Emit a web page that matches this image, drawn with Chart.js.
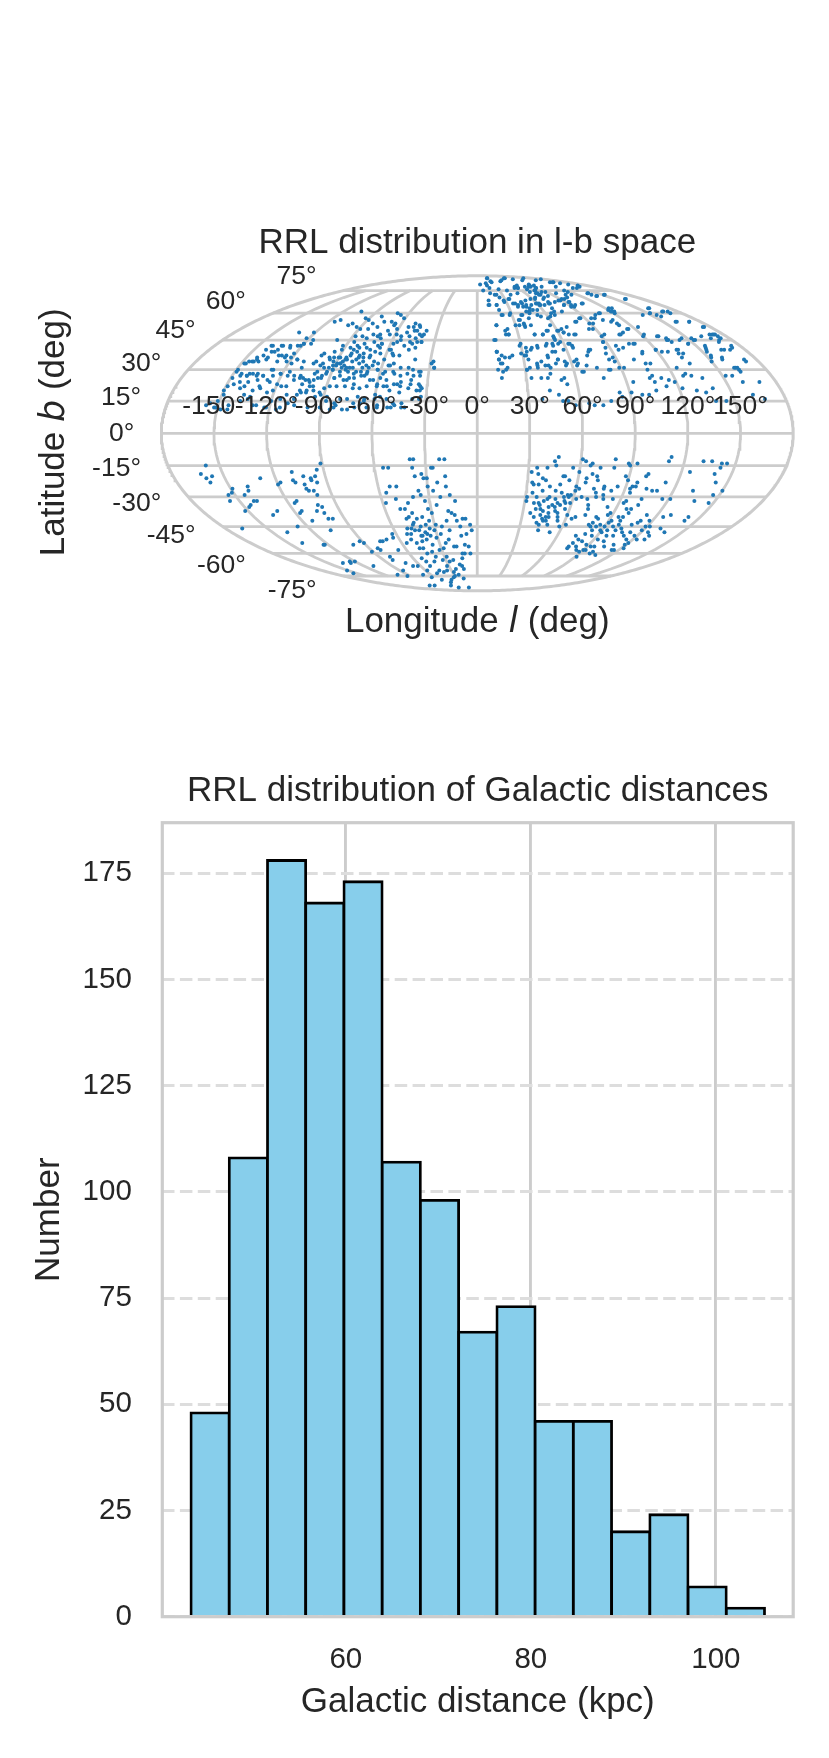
<!DOCTYPE html>
<html>
<head>
<meta charset="utf-8">
<script src="https://cdn.jsdelivr.net/npm/chart.js@4.4.1/dist/chart.umd.min.js"></script>
<style>
  html, body { margin: 0; padding: 0; background: #ffffff; }
  #wrap { position: relative; width: 829px; height: 1758px; background: #ffffff; }
  canvas { position: absolute; left: 0; }
</style>
</head>
<body>
<div id="wrap">
  <canvas id="sky" width="829" height="680" style="top:0;width:829px;height:680px"></canvas>
  <canvas id="hist" width="829" height="1078" style="top:680px;width:829px;height:1078px"></canvas>
</div>
<script>
// ---------------- DATA ----------------
// Sky positions of the RR Lyrae stars, [Galactic longitude l (deg), latitude b (deg)]
const northWest = [
[-104,61],[-70,60],[-66,59],[-112,56],[-115,55],[-99,54],[-93,57],[-89,56],[-83,54],[-81,58],[-75,55],[-69,55],[-65,54],[-61,57],[-49,54],[-45,53],[-93,52],[-89,51],[-83,51],[-77,52],[-71,48],[-67,50],[-64,48],[-65,53],[-61,51],[-53,52],[-49,52],[-45,50],[-42,48],[-39,48],[-132,49],[-121,49],[-101,53],[-99,45],[-88,47],[-83,47],[-79,46],[-76,48],[-72,47],[-66,43],[-59,48],[-55,47],[-49,47],[-44,46],[-39,44],[-45,43],[-122,46],[-115,43],[-120,43],[-123,42],[-128,42],[-133,42],[-140,42],[-142,40],[-135,39],[-130,37],[-125,37],[-121,38],[-101,38],[-95,39],[-91,40],[-86,41],[-83,38],[-80,39],[-80,41],[-78,43],[-72,40],[-68,39],[-66,41],[-59,40],[-51,37],[-46,40],[-40,35],[-74,36],[-78,35],[-84,35],[-89,36],[-92,34],[-89,33],[-146,34],[-144,34],[-142,35],[-140,34],[-136,36],[-128,34],[-122,34],[-116,35],[-103,34],[-98,33],[-93,31],[-91,32],[-86,34],[-84,32],[-80,31],[-78,31],[-75,33],[-72,31],[-70,32],[-66,32],[-63,33],[-56,32],[-53,33],[-48,31],[-43,31],[-40,30],[-36,29],[-28,34],[-27,31],[-149,30],[-147,33],[-149,26],[-145,28],[-141,27],[-138,28],[-133,25],[-131,27],[-128,30],[-125,27],[-121,28],[-116,29],[-112,27],[-108,26],[-106,26],[-102,25],[-99,25],[-99,29],[-95,26],[-93,29],[-87,26],[-85,29],[-81,25],[-78,26],[-75,26],[-71,27],[-68,29],[-63,25],[-59,26],[-57,29],[-51,28],[-48,23],[-46,24],[-40,25],[-35,27],
[-143,24],[-138,24],[-130,22],[-120,23],[-114,22],[-105,23],[-100,22],[-91,21],[-88,22],[-84,22],[-79,22],[-74,21],[-70,21],[-66,22],[-60,22],[-56,22],[-52,20],[-41,21],[-36,20],[-34,22],[-150,20],[-151,15],[-152,12],[-157,13],[-144,11],[-141,21],[-137,18],[-133,17],[-128,13],[-123,12],[-120,15],[-116,11],[-115,16],[-110,14],[-106,18],[-101,19],[-97,20],[-92,18],[-88,15],[-85,11],[-82,13],[-78,11],[-75,11],[-72,14],[-68,14],[-66,16],[-58,13],[-53,16],[-49,14],[-46,19],[-42,12],[-38,16],[-34,16],[-33,21],
[-90,30],[-87,33],[-85,36],[-82,30],[-80,34],[-77,37],[-75,29],[-73,34],[-70,36],[-68,31],[-66,34],[-64,38],[-62,30],[-60,35],[-58,43],[-56,38],[-54,45],[-52,49],[-50,42],[-47,50],[-44,52],[-42,44],[-40,47],[-38,50],[-72,44],[-69,46],[-86,44],[-92,42],[-96,36],[-110,31],[-118,33],[-125,24],[-135,28],[-100,28],[-105,20],[-95,17],[-60,18],[-55,25],
[-141,42],[-134,42],[-127,41],[-121,42],[-120,43],[-116,45],[-102,37],[-95,35],[-93,36],[-90,36],[-87,33],[-85,35],[-82,31],[-83,37],[-83,40],[-82,42],[-77,36],[-75,38],[-75,41],[-70,37],[-68,42],[-66,43],[-58,40],[-55,37],[-56,44],[-47,44],[-42,41],[-39,44],[-29,33],[-27,31],
[-148,33],[-143,34],[-143,36],[-140,37],[-136,35],[-137,39],[-134,40],[-128,37],[-125,36],[-121,36],[-116,35],[-111,34],[-104,33],[-99,32],[-96,31],[-90,30],[-89,32],[-85,31],[-80,29],[-76,28],[-72,29],[-68,28],[-62,30],[-58,28],[-55,32],[-52,29],[-47,27],[-43,28],[-39,27],[-35,29],
[-149,29],[-145,27],[-141,27],[-140,28],[-135,27],[-131,27],[-127,25],[-127,30],[-121,28],[-116,27],[-111,25],[-108,27],[-104,25],[-101,24],[-97,26],[-95,27],[-93,28],[-87,26],[-84,27],[-79,25],[-74,23],[-69,27],[-65,25],[-60,23],[-54,22],[-50,23],[-46,22],[-40,23],[-35,23],
[-149,22],[-146,23],[-139,22],[-133,20],[-129,21],[-124,19],[-121,20],[-117,22],[-112,18],[-107,16],[-104,19],[-101,20],[-98,22],[-93,19],[-88,17],[-83,14],[-80,16],[-76,16],[-70,17],[-66,15],[-60,16],[-57,17],[-52,12],[-48,13],[-44,14],[-34,20],[-33,17],[-155,14],[-151,12],[-148,11],[-149,18],[-144,13],[-138,15],[-134,16],[-130,13],[-122,12],[-114,12],[-106,13],[-98,12],[-91,12],[-83,12],[-71,12],[-64,12],[-58,12],[-50,12],[-44,12],
[13,39],[13,30]
];
const northEast = [
[32,86],[29,83],[16,79],[51,83],[85,86],[98,85],[110,84],[147,86],[143,84],[175,85],[147,82],[154,82],[155,81],[159,80],[141,77],[159,78],[61,78],[55,77],[74,78],[86,79],[77,75],[86,77],[75,73],[76,72],[88,74],[65,70],[58,69],[51,68],[45,66],[38,66],[34,69],[28,68],[21,72],[16,73],[11,65],[19,65],[39,64],[47,64],[53,65],[60,66],[62,65],[72,66],[80,67],[88,68],[85,65],[94,67],[90,64],[96,65],[105,66],[98,73],[95,69],[106,72],[137,73],[138,71],[153,72],[161,69],
[21,59],[29,60],[38,59],[47,61],[43,57],[37,54],[34,56],[37,52],[42,53],[30,53],[23,51],[15,53],[21,48],[23,48],[13,45],[42,48],[48,48],[52,50],[55,47],[61,50],[64,49],[69,52],[71,48],[62,58],[67,59],[76,61],[70,63],[79,55],[86,57],[95,57],[102,59],[108,60],[92,54],[85,51],[93,48],[120,62],[126,63],[123,61],[108,55],[111,53],[121,60],[114,51],[124,52],[160,63],[152,60],[155,59],[166,61],[171,61],[161,55],[171,55],[174,52],[170,48],[174,48],[174,47],[171,45],[153,46],[146,46],[135,45],[131,47],[122,48],[109,43],
[30,43],[33,41],[36,40],[41,42],[47,42],[52,43],[55,45],[58,44],[63,43],[65,42],[58,40],[52,39],[46,36],[41,34],[38,33],[33,35],[32,37],[29,38],[23,37],[18,36],[14,35],[13,39],[15,33],[16,29],[19,31],[15,26],[31,30],[33,31],[38,31],[43,32],[46,31],[52,35],[57,33],[62,34],[64,33],[66,29],[74,39],[76,40],[88,44],[85,38],[85,35],[88,34],[95,40],[99,41],[105,43],[101,35],[110,39],[107,33],[106,30],[107,27],[120,40],[123,39],[135,46],[136,44],[135,40],[136,38],[146,43],[154,45],[155,41],[153,39],[150,34],[164,40],[158,35],[170,40],[173,41],[163,31],[172,35],[162,31],[163,29],[125,31],[128,28],[131,27],[137,26],
[33,26],[39,26],[43,26],[45,28],[51,25],[53,26],[54,23],[65,29],[77,26],[83,30],[92,31],[94,24],[105,26],[107,24],[112,26],[116,25],[119,24],[126,27],[106,20],[113,22],[122,21],[130,20],[135,19],[140,21],[152,27],[156,27],[160,24],[170,24],[162,18],[168,16],[145,15],[139,15],[84,19],[85,17],[91,19],[97,18],[101,18],[73,13],[78,15],[68,13],[65,14],[57,13],[53,15],[50,15],[48,18],[38,16],[43,20],
[70,76],[80,78],[68,74],[82,71],[60,77],[72,69],[90,80],[100,78],[40,75],[50,73],[62,66],[55,62],[25,70],[30,76],[8,75],[5,80],[12,68],[20,62],
[31,86],[29,82],[16,81],[18,77],[12,65],[19,65],[23,72],[59,84],[88,86],[28,67],[35,69],[40,72],[58,78],[65,79],[60,77],[36,66],[40,65],[45,67],[44,64],[48,65],[49,63],[83,78],[93,79],[78,75],[73,73],[87,77],[74,72],[83,74],[75,70],[63,69],[59,66],[61,65],[66,65],[73,67],[73,66],[152,82],[122,78],[86,68],[92,69],[85,65],[101,70],[95,67],[92,65],[93,64],[165,79],[147,77],[117,75],[117,74],[113,72],[106,66],[138,73],[137,72],[139,71],[152,72],[162,69],[123,63],[121,61],[115,51],
[22,59],[28,59],[35,56],[39,59],[44,61],[46,60],[51,62],[52,59],[54,58],[59,57],[65,60],[69,61],[57,53],[64,51],[64,49],[67,48],[80,55],[85,57],[89,54],[98,57],[107,60],[103,56],[120,61],[111,56],[111,54],[143,59],[161,63],[152,60],[156,58],[167,61],[170,60],[160,55],[171,55],[175,52],[172,48],[173,48],[174,46],[15,53],[21,50],[23,48],[33,53],[37,53],[42,48],[48,48],[53,50],[60,50],[72,48],[88,51],[90,47],[105,48],[108,49],[120,47],[130,47],[134,45],[143,45],[146,43],[153,45],[162,47],[167,46],[169,44],
[12,45],[13,39],[16,37],[21,36],[14,35],[16,33],[29,42],[31,37],[33,39],[37,41],[41,41],[48,43],[52,42],[55,46],[56,43],[64,43],[65,41],[46,37],[50,39],[52,35],[56,34],[64,35],[72,37],[75,40],[88,44],[87,41],[95,42],[104,48],[108,43],[109,38],[110,33],[120,40],[127,39],[134,40],[133,38],[133,36],[135,33],[156,42],[154,40],[153,37],[152,36],[166,40],[159,36],[174,42],[161,31],[163,30],[172,34],[88,36],[89,31],[82,30],[75,31],[69,32],[63,32],[56,32],[50,33],[45,32],[38,32],[31,30],[18,30]
];
const southWest = [
[-158,-15],[-163,-19],[-161,-21],[-157,-20],[-160,-23],[-154,-29],[-149,-26],[-151,-28],[-156,-32],[-168,-46],[-152,-37],[-139,-25],[-144,-29],[-140,-27],[-145,-34],[-141,-32],[-139,-32],[-129,-21],[-147,-35],[-136,-39],[-131,-37],[-120,-24],[-118,-23],[-139,-48],[-109,-18],[-110,-22],[-109,-23],[-116,-33],[-114,-32],[-127,-45],[-117,-38],[-115,-37],[-139,-54],[-103,-20],[-104,-24],[-104,-26],[-103,-27],[-99,-21],[-99,-22],[-113,-42],[-100,-27],[-96,-20],[-94,-17],[-96,-23],[-99,-29],[-91,-14],[-102,-34],[-105,-37],[-100,-35],[-101,-38],[-124,-55],[-123,-55],[-101,-41],[-106,-47],[-98,-41],
[-135,-66],[-151,-71],[-125,-65],[-127,-66],[-154,-73],[-120,-65],[-100,-55],[-92,-53],[-90,-54],[-91,-59],[-110,-68],[-83,-57],[-76,-53],[-82,-58],[-74,-53],[-70,-52],[-80,-62],[-63,-49],[-64,-51],[-81,-64],[-67,-58],[-103,-74],[-86,-71],[-72,-66],[-94,-75],[-68,-68],[-63,-68],[-52,-63],[-70,-74],[-58,-71],[-105,-83],[-64,-76],[-94,-83],[-50,-73],[-55,-78],[-35,-71],[-58,-83],[-33,-76],[-51,-85],[-16,-68],[-20,-77],[-23,-85],
[-55,-16],[-52,-16],[-53,-25],[-49,-25],[-56,-28],[-58,-33],[-51,-31],[-50,-36],[-47,-36],[-46,-40],[-39,-12],[-37,-12],[-38,-16],[-37,-20],[-36,-27],[-35,-29],[-33,-19],[-32,-21],[-30,-21],[-30,-25],[-33,-32],[-32,-36],[-30,-38],[-27,-16],[-26,-16],[-26,-34],[-22,-12],[-19,-12],[-19,-20],[-24,-23],[-19,-25],[-17,-29],[-14,-32],[-19,-37],[-17,-38],[-15,-39],[-21,-42],[-14,-42],[-10,-41],[-8,-41],[-5,-44],[-4,-47],[-8,-49],[-7,-56],[-6,-60],[-11,-60],[-17,-56],[-19,-56],[-27,-65],[-23,-64],[-25,-54],[-28,-62],[-33,-64],[-31,-51],[-38,-62],[-42,-65],[-39,-59],[-44,-60],[-37,-49],[-41,-50],[-42,-47],[-45,-47],[-44,-43],[-41,-41],[-47,-46],[-49,-49],[-56,-54],[-51,-52],[-48,-54],[-43,-53],[-45,-57],[-48,-57],[-50,-65],[-50,-68],[-44,-71],[-40,-72],[-32,-68],[-46,-80],[-28,-72],[-24,-74],[-15,-70],[-13,-60],
[-40,-45],[-38,-48],[-36,-44],[-34,-46],[-42,-50],[-39,-52],[-35,-50],[-33,-42],[-37,-40],[-45,-44],[-43,-38],[-31,-47],[-29,-44],[-27,-49],[-25,-45],[-48,-41],[-50,-46],[-52,-49],[-36,-55],[-32,-58],[-28,-57],[-22,-52],[-20,-47],[-12,-50],[-10,-55],[-14,-63],[-18,-67],[-24,-70],[-30,-75],[-40,-78],[-12,-45],[-44,-33],[-40,-30],[-27,-27],[-23,-30]
];
const southEast = [
[45,-13],[47,-11],[46,-15],[35,-16],[32,-18],[36,-19],[41,-16],[39,-21],[41,-22],[33,-23],[34,-24],[37,-24],[51,-20],[52,-20],[56,-16],[60,-18],[61,-12],[63,-13],[67,-14],[66,-15],[72,-16],[80,-12],[80,-16],[88,-14],[89,-15],[93,-14],[101,-19],[100,-20],[111,-13],[112,-11],[131,-13],[136,-13],[142,-14],[145,-14],[142,-16],[140,-19],[143,-23],[150,-27],[146,-29],[147,-33],[132,-27],[137,-32],[125,-18],[113,-23],[116,-31],[121,-31],[129,-39],[125,-40],[142,-42],[142,-40],[131,-46],[137,-48],[118,-42],[122,-45],[119,-47],[112,-42],[111,-43],[108,-44],[112,-48],[99,-44],[103,-46],[100,-47],[96,-45],[91,-43],[92,-42],[98,-42],[98,-40],[100,-38],[100,-36],[103,-34],[103,-31],[113,-39],[119,-45],[129,-52],[129,-50],[123,-52],[120,-54],[119,-55],[122,-57],[116,-58],[114,-58],[99,-53],[89,-47],[91,-48],[93,-52],[84,-45],[83,-47],[80,-45],[80,-43],[80,-49],[82,-53],[74,-50],[76,-54],[75,-56],[75,-57],[84,-58],[88,-59],[90,-58],[91,-62],[93,-56],[100,-59],[106,-61],[99,-60],[92,-58],
[31,-30],[31,-32],[36,-33],[38,-36],[41,-36],[42,-39],[44,-41],[46,-40],[48,-40],[51,-37],[53,-38],[54,-40],[60,-39],[46,-35],[48,-34],[44,-31],[42,-32],[39,-33],[45,-30],[49,-31],[51,-33],[55,-32],[54,-30],[56,-29],[57,-30],[58,-29],[60,-27],[60,-25],[62,-26],[65,-30],[69,-31],[71,-34],[72,-36],[72,-39],[66,-40],[64,-41],[62,-44],[41,-43],[44,-47],[53,-48],[45,-42],[47,-42],[48,-27],[52,-28],[56,-33],[65,-23],[65,-21],[68,-19],[71,-20],[72,-22],[71,-26],[73,-28],[74,-30],[78,-29],[77,-26],[79,-31],[77,-25],[82,-27],[85,-25],[88,-20],[90,-22],[93,-26],[94,-28],[94,-25],[96,-25],[96,-23],[103,-26],[107,-27],[110,-27],[85,-31],[94,-32],[93,-33],[97,-36],[88,-38],[87,-39],[80,-40],[84,-35],
[34,-28],[37,-30],[40,-34],[43,-37],[47,-38],[50,-35],[53,-34],[57,-36],[59,-33],[62,-31],[38,-40],[43,-44],[49,-44],[55,-42],[58,-45],[35,-38],[40,-27],[44,-25],[50,-24],[55,-22],
[78,-44],[82,-41],[86,-44],[90,-45],[94,-47],[97,-50],[102,-50],[106,-48],[110,-50],[115,-52],[118,-50],[125,-48],[86,-50],[88,-55],[96,-56],[104,-56],[110,-55],[78,-52],[81,-56],[95,-40]
];

// Graticule / tick labels of the sky map (degrees)
const latTicks = [-75, -60, -45, -30, -15, 0, 15, 30, 45, 60, 75];
const lonTicks = [-150, -120, -90, -60, -30, 0, 30, 60, 90, 120, 150];

// Histogram of Galactic distances (kpc): bin edges and counts per bin
const binEdges = [43.26, 47.39, 51.53, 55.66, 59.79, 63.93, 68.06, 72.19, 76.33, 80.46, 84.59, 88.73, 92.86, 96.99, 101.13, 105.26];
const binCounts = [48, 108, 178, 168, 173, 107, 98, 67, 73, 46, 46, 20, 24, 7, 2];
const distTicks = [60, 80, 100];
const numberTicks = [0, 25, 50, 75, 100, 125, 150, 175];

const skyTitle = 'RRL distribution in l-b space';
const histTitle = 'RRL distribution of Galactic distances';

// ---------------- STYLE ----------------
const FAMILY = '"Liberation Sans", Arial, Helvetica, sans-serif';
const TEXT = '#262626';
const GRID = '#cccccc';
Chart.defaults.font.family = FAMILY;
Chart.defaults.color = TEXT;

// Mollweide projection (returns projected data units)
function mollweide(lonDeg, latDeg) {
  const lam = lonDeg * Math.PI / 180;
  const phi = latDeg * Math.PI / 180;
  let th;
  if (Math.abs(Math.abs(phi) - Math.PI / 2) < 1e-12) {
    th = Math.sign(phi) * Math.PI / 2;
  } else {
    let t = phi; // t = 2*theta
    const target = Math.PI * Math.sin(phi);
    for (let i = 0; i < 200; i++) {
      const d = (t + Math.sin(t) - target) / (1 + Math.cos(t));
      t -= d;
      if (Math.abs(d) < 1e-12) break;
    }
    th = t / 2;
  }
  return { x: 2 * Math.SQRT2 / Math.PI * lam * Math.cos(th), y: Math.SQRT2 * Math.sin(th) };
}
const degLabel = v => `${v}\u00B0`;

function drawMixed(ctx, parts, cx, baseY, rot) {
  ctx.save();
  ctx.translate(cx, baseY);
  ctx.rotate(rot);
  ctx.textAlign = 'left';
  ctx.textBaseline = 'alphabetic';
  let total = 0;
  const widths = parts.map(p => { ctx.font = p.font; const w = ctx.measureText(p.text).width; total += w; return w; });
  let x = -total / 2;
  parts.forEach((p, i) => { ctx.font = p.font; ctx.fillText(p.text, x, 0); x += widths[i]; });
  ctx.restore();
}

// ---------------- SKY MAP ----------------
const upright = `35px ${FAMILY}`;
const italicMath = 'italic 35px "DejaVu Sans", sans-serif';

const skyTextPlugin = {
  id: 'skyText',
  afterDatasetsDraw(chart) {
    const { ctx, chartArea: ca, scales: { x, y } } = chart;
    ctx.save();
    ctx.fillStyle = TEXT;
    ctx.font = `26.5px ${FAMILY}`;
    ctx.textAlign = 'right';
    ctx.textBaseline = 'middle';
    latTicks.forEach(lat => {
      const p = mollweide(-180, lat);
      ctx.fillText(degLabel(lat), x.getPixelForValue(p.x) - 27, y.getPixelForValue(1.1 * p.y));
    });
    ctx.textAlign = 'center';
    ctx.textBaseline = 'alphabetic';
    const eq = y.getPixelForValue(0);
    lonTicks.forEach(lon => {
      const p = mollweide(lon, 0);
      ctx.fillText(degLabel(lon), x.getPixelForValue(p.x), eq - 19);
    });
    drawMixed(ctx, [
      { text: 'Longitude ', font: upright },
      { text: 'l', font: italicMath },
      { text: ' (deg)', font: upright }
    ], (ca.left + ca.right) / 2, ca.bottom + 41, 0);
    drawMixed(ctx, [
      { text: 'Latitude ', font: upright },
      { text: 'b', font: italicMath },
      { text: ' (deg)', font: upright }
    ], ca.left - 97, (ca.top + ca.bottom) / 2 - 1, -Math.PI / 2);
    ctx.restore();
  }
};

const gridStyle = { type: 'scatter', showLine: true, pointRadius: 0, pointHoverRadius: 0, borderColor: GRID, borderWidth: 2.8, fill: false, clip: false, order: 2 };
const skyDatasets = [];
const allStars = [...northWest, ...northEast, ...southWest, ...southEast];
skyDatasets.push({
  label: 'RRL', data: allStars.map(([l, b]) => mollweide(l, b)),
  pointRadius: 2.0, pointHoverRadius: 2.0, pointBorderWidth: 0,
  backgroundColor: '#1f77b4', borderColor: '#1f77b4', showLine: false, clip: false, order: 0
});
latTicks.forEach(lat => {
  skyDatasets.push({ ...gridStyle, data: [mollweide(-180, lat), mollweide(180, lat)] });
});
lonTicks.forEach(lon => {
  const pts = [];
  for (let lat = -75; lat <= 75; lat += 2.5) pts.push(mollweide(lon, lat));
  skyDatasets.push({ ...gridStyle, data: pts });
});
{
  const pts = [];
  for (let i = 0; i <= 360; i++) {
    const t = -Math.PI / 2 + Math.PI * i / 360;
    pts.push({ x: -2 * Math.SQRT2 * Math.cos(t), y: Math.SQRT2 * Math.sin(t) });
  }
  for (let i = 0; i <= 360; i++) {
    const t = Math.PI / 2 - Math.PI * i / 360;
    pts.push({ x: 2 * Math.SQRT2 * Math.cos(t), y: Math.SQRT2 * Math.sin(t) });
  }
  skyDatasets.push({ ...gridStyle, borderWidth: 3.0, order: 1, data: pts });
}

new Chart(document.getElementById('sky'), {
  type: 'scatter',
  data: { datasets: skyDatasets },
  options: {
    responsive: false, animation: false, events: [],
    layout: { autoPadding: false, padding: { left: 161.3, right: 35.8, top: 0, bottom: 89.2 } },
    plugins: {
      legend: { display: false }, tooltip: { enabled: false },
      title: {
        display: true, text: skyTitle, fullSize: false, color: TEXT,
        font: { family: FAMILY, size: 35, weight: 'normal', lineHeight: 1.2 },
        padding: { top: 221.9, bottom: 11.9 }
      }
    },
    scales: {
      x: { type: 'linear', display: false, min: -2 * Math.SQRT2, max: 2 * Math.SQRT2 },
      y: { type: 'linear', display: false, min: -Math.SQRT2, max: Math.SQRT2 }
    }
  },
  plugins: [skyTextPlugin]
});

// ---------------- HISTOGRAM ----------------
const span = binEdges[binEdges.length - 1] - binEdges[0];
const xMin = binEdges[0] - 0.05 * span;
const xMax = binEdges[binEdges.length - 1] + 0.05 * span;
const yMax = Math.max(...binCounts) * 1.05;

const framePlugin = {
  id: 'frame',
  afterDatasetsDraw(chart) {
    const { ctx, chartArea: a } = chart;
    ctx.save();
    ctx.strokeStyle = GRID;
    ctx.lineWidth = 3.2;
    ctx.strokeRect(a.left, a.top, a.right - a.left, a.bottom - a.top);
    ctx.restore();
  }
};

new Chart(document.getElementById('hist'), {
  type: 'bar',
  data: {
    datasets: [{
      label: 'Number',
      data: binCounts.map((c, i) => ({ x: (binEdges[i] + binEdges[i + 1]) / 2, y: c })),
      backgroundColor: '#87ceeb', borderColor: '#000000', borderWidth: 2.8, inflateAmount: 1.4,
      barPercentage: 1, categoryPercentage: 1, borderSkipped: 'start', grouped: false
    }]
  },
  options: {
    responsive: false, animation: false, events: [],
    layout: { autoPadding: false, padding: { left: 0, right: 35.8, top: 0, bottom: 0 } },
    plugins: {
      legend: { display: false }, tooltip: { enabled: false },
      title: {
        display: true, text: histTitle, fullSize: false, color: TEXT,
        font: { family: FAMILY, size: 35, weight: 'normal', lineHeight: 1.2 },
        padding: { top: 89.9, bottom: 10.8 }
      }
    },
    scales: {
      x: {
        type: 'linear', min: xMin, max: xMax, offset: false,
        afterBuildTicks: ax => { ax.ticks = distTicks.map(v => ({ value: v })); },
        afterFit: s => { s.height = 141.3; },
        grid: { color: GRID, lineWidth: 2.9, drawTicks: false, offset: false },
        border: { display: false },
        ticks: { color: TEXT, font: { family: FAMILY, size: 29.5 }, padding: 25, maxRotation: 0, autoSkip: false },
        title: { display: true, text: 'Galactic distance (kpc)', color: TEXT, font: { family: FAMILY, size: 35, lineHeight: 1.2 }, padding: { top: 0, bottom: 34.6 } }
      },
      y: {
        type: 'linear', min: 0, max: yMax,
        afterBuildTicks: ax => { ax.ticks = numberTicks.map(v => ({ value: v })); },
        afterFit: s => { s.width = 162.3; },
        grid: { color: '#dddddd', lineWidth: 2.9, drawTicks: false },
        border: { display: false, dash: [12.5, 5.4] },
        ticks: { color: TEXT, font: { family: FAMILY, size: 29.5 }, padding: 30.5, autoSkip: false },
        title: { display: true, text: 'Number', color: TEXT, font: { family: FAMILY, size: 35, lineHeight: 1.2 }, padding: { top: 28.6, bottom: 0 } }
      }
    }
  },
  plugins: [framePlugin]
});
</script>
</body>
</html>
